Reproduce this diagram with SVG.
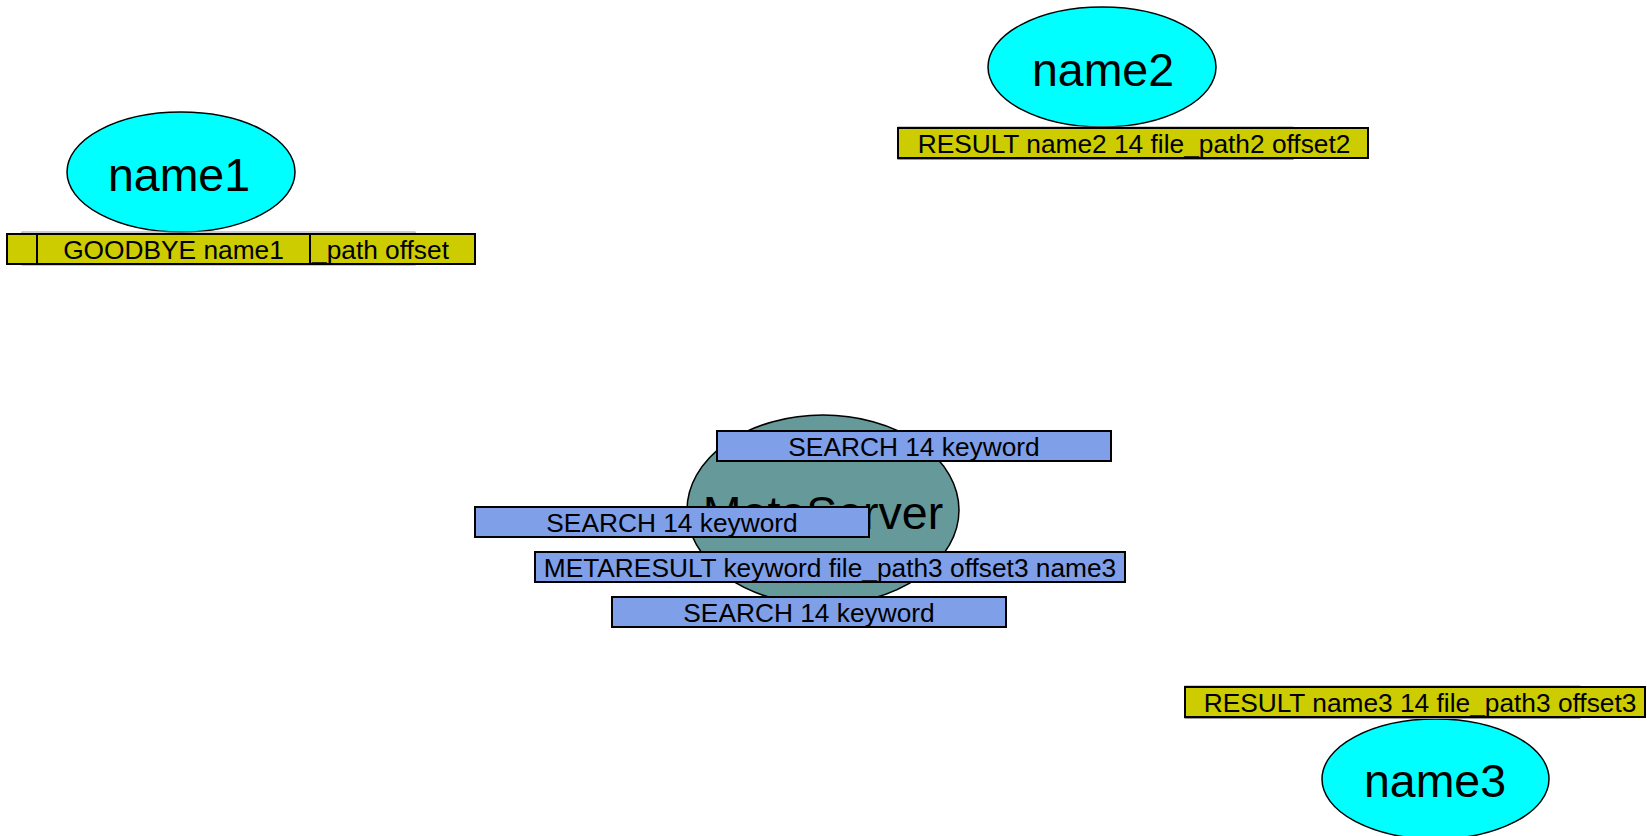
<svg xmlns="http://www.w3.org/2000/svg" width="1647" height="836" viewBox="0 0 1647 836">
  <style>
    text { font-family: "Liberation Sans", Arial, sans-serif; fill: #000; }
    .node { fill: #00FFFF; stroke: #000; stroke-width: 1.5; }
    .server { fill: #669999; stroke: #000; stroke-width: 1.5; }
    .nlabel { font-size: 46.5px; text-anchor: middle; }
    .msgY { fill: #CCCC00; stroke: #000; stroke-width: 2; }
    .msgB { fill: #7F9FE8; stroke: #000; stroke-width: 2; }
    .ghost { fill: none; stroke: #9a9a9a; stroke-width: 1; }
    .mlabel { font-size: 26.3px; text-anchor: middle; }
  </style>
  <rect width="1647" height="836" fill="#ffffff"/>

  <g id="connectors"></g>

  <g id="node-name1">
    <ellipse class="node" cx="181" cy="172" rx="114" ry="60"/>
    <text class="nlabel" x="179" y="191">name1</text>
  </g>

  <g id="node-name2">
    <ellipse class="node" cx="1102" cy="67" rx="114" ry="60"/>
    <text class="nlabel" x="1103" y="86">name2</text>
  </g>

  <g id="node-name3">
    <ellipse class="node" cx="1435.5" cy="779" rx="113.5" ry="60"/>
    <text class="nlabel" x="1435" y="797">name3</text>
  </g>

  <g id="node-metaserver">
    <ellipse class="server" cx="823" cy="510" rx="136" ry="95"/>
    <text class="nlabel" x="823" y="529">MetaServer</text>
  </g>

  <g id="msg-goodbye-name1">
    <rect class="ghost" x="22" y="232" width="393" height="33"/>
    <rect class="msgY" x="7" y="234" width="468" height="30"/>
    <text style="font-size:26.3px" x="312" y="259">_path offset</text>
    <rect class="msgY" x="37" y="234" width="273" height="30"/>
    <text class="mlabel" x="173.5" y="259">GOODBYE name1</text>
  </g>

  <g id="msg-result-name2">
    <rect class="ghost" x="898" y="127" width="395" height="32.5"/>
    <rect class="msgY" x="898" y="128" width="470" height="30"/>
    <text class="mlabel" x="1134" y="153">RESULT name2 14 file_path2 offset2</text>
  </g>

  <g id="msg-result-name3">
    <rect class="ghost" x="1185" y="686" width="395" height="32.5"/>
    <rect class="msgY" x="1185" y="687" width="460" height="30"/>
    <text class="mlabel" x="1420" y="712">RESULT name3 14 file_path3 offset3</text>
  </g>

  <g id="msg-search-top">
    <rect class="msgB" x="717" y="431" width="394" height="30"/>
    <text class="mlabel" x="914" y="456">SEARCH 14 keyword</text>
  </g>

  <g id="msg-search-middle">
    <rect class="msgB" x="475" y="507" width="394" height="30"/>
    <text class="mlabel" x="672" y="532">SEARCH 14 keyword</text>
  </g>

  <g id="msg-metaresult">
    <rect class="msgB" x="535" y="552" width="590" height="30"/>
    <text class="mlabel" x="830" y="577">METARESULT keyword file_path3 offset3 name3</text>
  </g>

  <g id="msg-search-bottom">
    <rect class="msgB" x="612" y="597" width="394" height="30"/>
    <text class="mlabel" x="809" y="622">SEARCH 14 keyword</text>
  </g>
</svg>
